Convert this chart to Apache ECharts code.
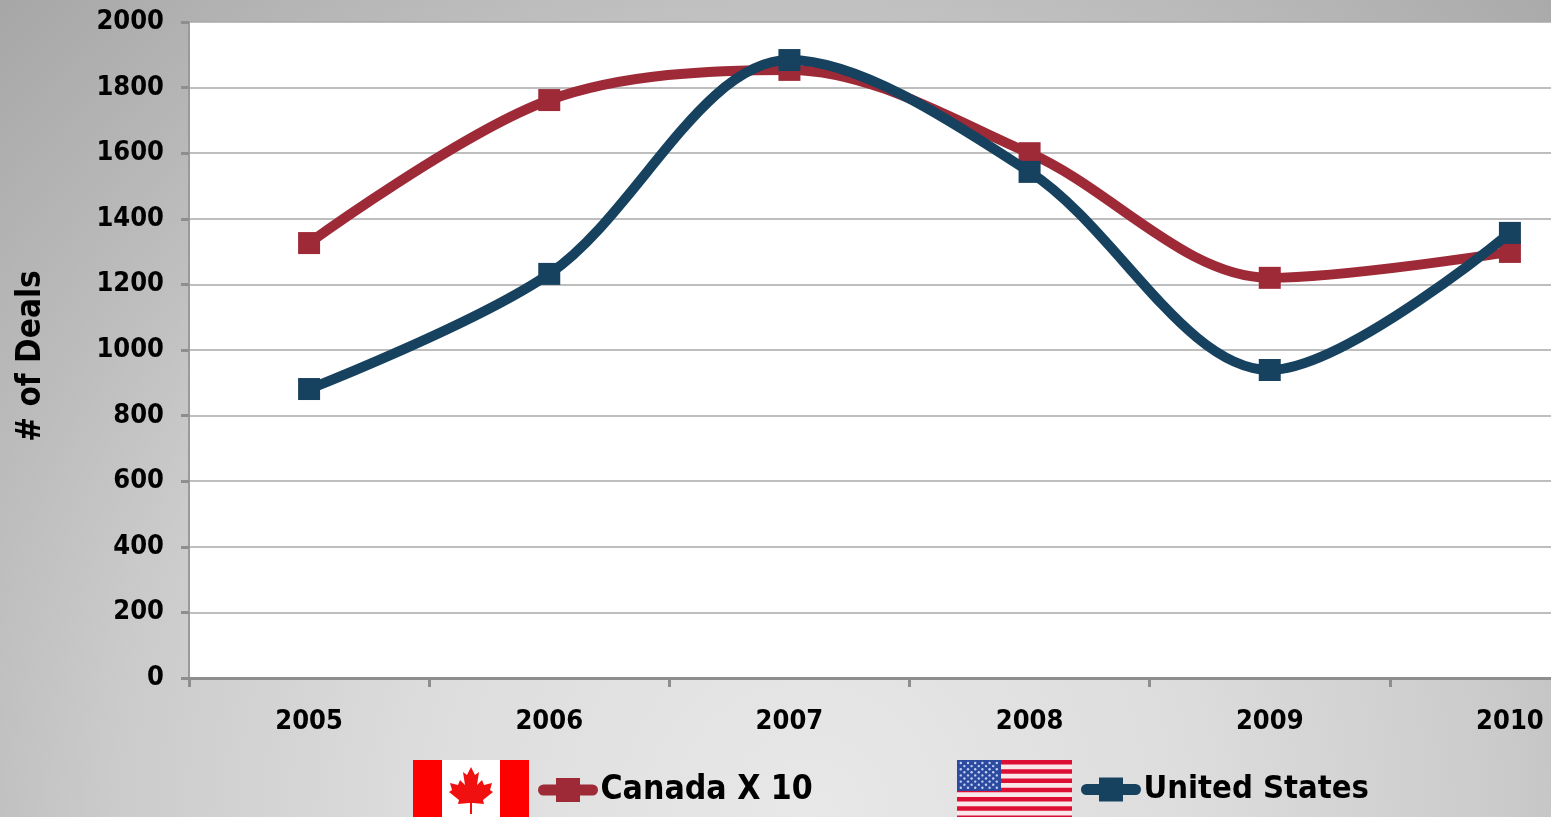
<!DOCTYPE html>
<html>
<head>
<meta charset="utf-8">
<style>html,body{margin:0;padding:0;background:#ccc}#chart{width:1551px;height:817px}</style>
<script src="https://cdn.jsdelivr.net/npm/echarts@6/dist/echarts.min.js"></script>
</head>
<body>
<div id="chart"></div>
<script>
const years = ['2005', '2006', '2007', '2008', '2009', '2010'];
const canadaX10 = [1326, 1762, 1854, 1600, 1220, 1299];
const unitedStates = [881, 1232, 1884, 1543, 939, 1357];

const FONT = '"DejaVu Sans Condensed","DejaVu Sans",sans-serif';
const RED = '#9e2a38';
const NAVY = '#17425f';

// Canadian flag: red bars, white field, maple leaf outline mirrored about the centre
function canadaFlag() {
  const half = [[0,767],[4,775],[8,772],[6,785],[11,780],[13,785],[21,783],[19,790],[22,792],[12,800],[13,804],[2,803],[1,803],[1,814]];
  const cx = 471;
  const leaf = half.map(p => [cx + p[0], p[1]]).concat(half.slice().reverse().map(p => [cx - p[0], p[1]]));
  return [
    {type: 'rect', shape: {x: 413, y: 760, width: 116, height: 60}, style: {fill: '#ff0000'}},
    {type: 'rect', shape: {x: 442, y: 760, width: 58, height: 60}, style: {fill: '#ffffff'}},
    {type: 'polygon', shape: {points: leaf}, style: {fill: '#f01010'}}
  ];
}

// American flag: thirteen stripes, blue canton, rows of small stars
function usFlag() {
  const out = [];
  const x0 = 957, y0 = 760, w = 115, sh = 60 / 13;
  out.push({type: 'rect', shape: {x: x0, y: y0, width: w, height: 60}, style: {fill: '#fbe6ea'}});
  for (let i = 0; i < 13; i += 2) {
    out.push({type: 'rect', shape: {x: x0, y: y0 + i * sh, width: w, height: sh}, style: {fill: '#dd0f35'}});
  }
  out.push({type: 'rect', shape: {x: x0, y: y0, width: 44, height: 31}, style: {fill: '#2b4aa0'}});
  for (let r = 0; r < 9; r++) {
    const n = r % 2 ? 5 : 6;
    for (let c = 0; c < n; c++) {
      out.push({type: 'circle', shape: {cx: x0 + 3.8 + (r % 2 ? 3.6 : 0) + c * 7.2, cy: y0 + 3 + r * 3.1, r: 1.2}, style: {fill: '#c4d2f2'}});
    }
  }
  return out;
}

function seriesOf(name, data, color, z) {
  return {
    name, data, type: 'line', smooth: 0.33, z,
    symbol: 'rect', symbolSize: 22,
    itemStyle: {color},
    lineStyle: {color, width: 10, cap: 'round'}
  };
}

function legendOf(name, left, fontSize) {
  return {
    data: [name], left, top: 773, orient: 'horizontal', padding: 0,
    itemWidth: 49, itemHeight: 30, itemGap: 0,
    lineStyle: {width: 11, cap: 'round'},
    textStyle: {fontFamily: FONT, fontSize, fontWeight: 'bold', color: '#000', padding: [2, 0, 0, 3]}
  };
}

const chart = echarts.init(document.getElementById('chart'));
chart.setOption({
  animation: false,
  backgroundColor: {
    type: 'radial', x: 0.52, y: 1.0, r: 1.41,
    colorStops: [
      {offset: 0, color: '#e8e8e8'}, {offset: 0.33, color: '#dddddd'},
      {offset: 0.6, color: '#cbcbcb'}, {offset: 0.74, color: '#bdbdbd'}, {offset: 1, color: '#a6a6a6'}
    ]
  },
  grid: {left: 189, top: 22, width: 1441, height: 656, show: true, backgroundColor: '#fff', borderWidth: 0, outerBoundsMode: 'none'},
  xAxis: {
    type: 'category', data: years, boundaryGap: true,
    axisLine: {lineStyle: {color: '#8e8e8e', width: 3}},
    axisTick: {show: true, alignWithLabel: false, length: 9, lineStyle: {color: '#8e8e8e', width: 3}},
    axisLabel: {fontFamily: FONT, fontSize: 27, fontWeight: 'bold', color: '#000', margin: 30}
  },
  yAxis: {
    type: 'value', min: 0, max: 2000, interval: 200,
    name: '# of Deals', nameLocation: 'middle', nameGap: 141,
    nameTextStyle: {fontFamily: FONT, fontSize: 33, fontWeight: 'bold', color: '#000', padding: [0, 0, 0, -12]},
    axisLine: {show: true, lineStyle: {color: '#9a9a9a', width: 2}},
    axisTick: {show: true, length: 8, lineStyle: {color: '#8e8e8e', width: 3}},
    axisLabel: {fontFamily: FONT, fontSize: 27, fontWeight: 'bold', color: '#000', margin: 25, padding: [5, 0, 0, 0], formatter: value => String(value)},
    splitLine: {show: true, lineStyle: {color: '#a9a9a9', width: 1.5}}
  },
  legend: [legendOf('Canada X 10', 538, 33.5), legendOf('United States', 1081, 32.5)],
  series: [
    seriesOf('Canada X 10', canadaX10, RED, 2),
    seriesOf('United States', unitedStates, NAVY, 3)
  ],
  graphic: {elements: canadaFlag().concat(usFlag())}
});
</script>
</body>
</html>
